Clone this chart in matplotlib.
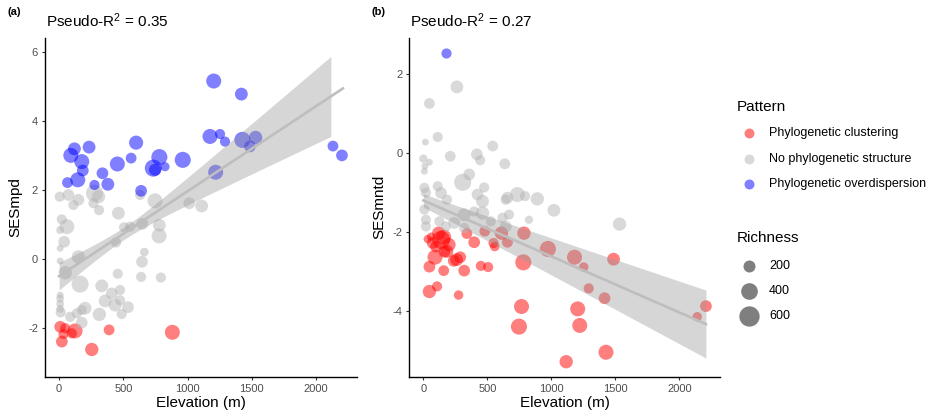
import numpy as np
import matplotlib
matplotlib.use("Agg")
import matplotlib.pyplot as plt

plt.rcParams['font.family'] = ['Liberation Sans', 'DejaVu Sans']
plt.rcParams['mathtext.default'] = 'regular'

# ---- panel (a): SESmpd vs elevation ----
a_clu_elev = [8, 47, 124, 99, 34, 21, 389, 254, 881]
a_clu_ses = [-1.97, -2.01, -2.09, -2.16, -2.18, -2.40, -2.06, -2.63, -2.13]
a_clu_rich = [190, 140, 320, 140, 140, 190, 160, 250, 320]

a_non_elev = [72, 150, 111, 275, 306, 311, 461, 746, 1013, 1109, 21, 60, 8, 39, 8,
              505, 552, 648, 780, 778, 443, 663, 645, 150, 8, 48, 163, 456, 638, 792,
              332, 8, 8, 8, 8, 12, 410, 474, 358, 435, 474, 536, 487, 202, 176, 137,
              313, 176, 86, 630, 5, 267]
a_non_ses = [1.86, 1.72, 1.57, 1.91, 1.81, 1.42, 1.33, 1.69, 1.62, 1.54, 1.15, 0.94, 0.84, 0.50, 0.31,
             0.92, 0.94, 1.02, 0.98, 0.67, 0.48, 0.20, -0.08, 0.06, -0.06, -0.40, -0.73, -0.43, -0.52, -0.54,
             -0.78, -1.05, -1.15, -1.30, -1.45, -1.55, -1.00, -0.90, -1.22, -1.34, -1.20, -1.40, -1.60, -1.43, -1.48, -1.58,
             -1.61, -1.85, -1.68, 1.86, 1.81, 1.62]
a_non_rich = [190, 190, 140, 420, 250, 140, 230, 320, 190, 230, 140, 320, 80, 190, 60,
              140, 140, 190, 230, 320, 140, 100, 190, 250, 60, 250, 420, 140, 140, 140,
              230, 60, 80, 80, 80, 140, 190, 140, 230, 230, 140, 190, 140, 230, 140, 140,
              250, 190, 140, 140, 140, 140]

a_ovr_elev = [1203, 1418, 1174, 1252, 1291, 1426, 1529, 1485, 2131, 2201, 1218, 962, 780, 733, 746,
              824, 599, 560, 453, 638, 337, 379, 275, 233, 119, 91, 176, 184, 145, 65]
a_ovr_ses = [5.17, 4.79, 3.56, 3.63, 3.41, 3.46, 3.53, 3.27, 3.28, 3.01, 2.52, 2.88, 2.96, 2.64, 2.59,
             2.68, 3.38, 2.93, 2.76, 1.98, 2.49, 2.17, 2.15, 3.25, 3.20, 3.01, 2.83, 2.57, 2.30, 2.22]
a_ovr_rich = [320, 230, 320, 140, 140, 370, 250, 190, 160, 190, 320, 370, 370, 420, 200,
              110, 280, 160, 320, 190, 190, 230, 140, 230, 230, 320, 320, 190, 320, 160]

# ---- panel (b): SESmntd vs elevation ----
b_clu_elev = [120, 159, 138, 34, 73, 99, 184, 91, 237, 288, 47, 159, 319, 340, 397, 480, 548, 558,
              610, 657, 786, 781, 449, 506, 47, 107, 275, 973, 1181, 1253, 1292, 1486, 1416, 767,
              747, 1206, 1222, 1427, 1116, 2140, 2208, 60, 200, 165, 260]
b_clu_ses = [-2.03, -2.13, -2.20, -2.18, -2.28, -2.37, -2.49, -2.64, -2.73, -2.64, -2.88, -2.98, -2.98, -2.04, -2.26, -1.98, -2.28, -2.37,
             -2.03, -2.26, -2.03, -2.77, -2.86, -2.89, -3.51, -3.38, -3.60, -2.43, -2.64, -2.89, -3.43, -2.69, -3.68, -3.89,
             -4.40, -3.95, -4.37, -5.05, -5.29, -4.15, -3.88, -2.12, -2.32, -2.50, -2.70]
b_clu_rich = [250, 320, 470, 90, 190, 190, 230, 320, 190, 190, 190, 160, 190, 160, 190, 160, 140, 120,
              250, 160, 250, 370, 140, 140, 250, 140, 120, 370, 320, 120, 140, 230, 190, 320,
              370, 320, 320, 320, 250, 120, 190, 90, 250, 190, 230]

b_non_elev = [262, 47, 112, 16, 542, 210, 418, 444, 636, 0, 47, 12, 8, 358, 307, 475, 112, 8,
              423, 735, 794, 890, 643, 1020, 138, 184, 20, 462, 657, 825, 8, 20, 20, 319, 397,
              462, 527, 618, 669, 644, 241, 125, 176, 319, 1533]
b_non_ses = [1.68, 1.26, 0.41, 0.28, 0.18, -0.08, -0.03, -0.18, -0.27, -0.14, -0.23, -0.33, -0.46, -0.54, -0.74, -0.87, -0.84, -0.88,
             -1.05, -1.05, -1.09, -1.16, -1.18, -1.45, -1.01, -1.18, -1.00, -1.22, -1.13, -1.69, -1.43, -1.69, -1.86, -1.56, -1.48,
             -1.52, -1.73, -1.64, -1.56, -1.86, -1.77, -1.73, -1.86, -1.90, -1.80]
b_non_rich = [230, 160, 140, 60, 160, 160, 190, 140, 160, 90, 60, 60, 60, 190, 420, 140, 140, 140,
              190, 320, 140, 250, 140, 230, 190, 140, 140, 230, 190, 90, 140, 140, 140, 230, 140,
              250, 140, 140, 140, 190, 190, 140, 140, 140, 250]

b_ovr_elev = [179]
b_ovr_ses = [2.55]
b_ovr_rich = [140]

# fitted trend: intercept, slope, band half-width terms, x range of the band
fit_a = dict(b0=-0.50, b1=0.00247, c0=0.033, c1=5.06e-7, xm=500, xmax=2208, band_max=2115)
fit_b = dict(b0=-1.20, b1=-0.00142, c0=0.014, c1=1.1e-7, xm=-370, xmax=2208, band_max=2208)

pattern_names = ["Phylogenetic clustering", "No phylogenetic structure", "Phylogenetic overdispersion"]
pattern_colors = ["#FF0000", "#B5B5B5", "#0000FF"]
legend_rich = [200, 400, 600]


def marker_area(rich):
    # diameter in px grows with sqrt(richness); convert to pt^2 for scatter
    d = 0.8 * np.sqrt(np.asarray(rich, dtype=float)) + 0.7
    return (d * 0.72) ** 2


def draw_panel(ax, groups, fit, ylabel, yticks, ylim):
    for (ex, sy, rc), col in zip(groups, pattern_colors):
        ax.scatter(ex, sy, s=marker_area(rc), color=col, alpha=0.5, linewidths=0, zorder=2)
    xb = np.linspace(0, fit["band_max"], 200)
    hw = 1.96 * np.sqrt(fit["c0"] + fit["c1"] * (xb - fit["xm"]) ** 2) / 1.96
    yb = fit["b0"] + fit["b1"] * xb
    ax.fill_between(xb, yb - hw, yb + hw, color="#999999", alpha=0.4, linewidth=0, zorder=3)
    xl = np.linspace(0, fit["xmax"], 50)
    ax.plot(xl, fit["b0"] + fit["b1"] * xl, color="#BEBEBE", lw=1.9, zorder=4)

    ax.set_xlim(-110, 2318)
    ax.set_ylim(*ylim)
    ax.set_xticks([0, 500, 1000, 1500, 2000])
    ax.set_yticks(yticks)
    ax.set_yticklabels([str(t) for t in yticks])
    for s in ["top", "right"]:
        ax.spines[s].set_visible(False)
    for s in ["left", "bottom"]:
        ax.spines[s].set_linewidth(1.0)
        ax.spines[s].set_color("black")
    ax.tick_params(length=2.5, width=0.8, color="#333333", labelcolor="#4D4D4D",
                   labelsize=8, pad=2.5)
    ax.set_xlabel("Elevation (m)", fontsize=11, labelpad=2)
    ax.set_ylabel(ylabel, fontsize=11, labelpad=4)


fig = plt.figure(figsize=(9.35, 4.17), dpi=100)
W, H = 935, 417

ax1 = fig.add_axes([45 / W, 1 - 376.7 / H, 312 / W, 338.7 / H])
ax2 = fig.add_axes([409.3 / W, 1 - 376.7 / H, 310.7 / W, 338.7 / H])

draw_panel(ax1,
           [(a_clu_elev, a_clu_ses, a_clu_rich),
            (a_non_elev, a_non_ses, a_non_rich),
            (a_ovr_elev, a_ovr_ses, a_ovr_rich)],
           fit_a, "SESmpd", [-2, 0, 2, 4, 6], (-3.42, 6.42))
draw_panel(ax2,
           [(b_clu_elev, b_clu_ses, b_clu_rich),
            (b_non_elev, b_non_ses, b_non_rich),
            (b_ovr_elev, b_ovr_ses, b_ovr_rich)],
           fit_b, "SESmntd", [-4, -2, 0, 2], (-5.67, 2.92))

# panel tags and titles
fig.text(8 / W, 1 - 15 / H, "(a)", fontsize=8, weight="bold", va="baseline")
fig.text(372 / W, 1 - 15 / H, "(b)", fontsize=8, weight="bold", va="baseline")
fig.text(46 / W, 1 - 26.7 / H, "Pseudo-R$^2$ = 0.35", fontsize=11, va="baseline")
fig.text(410 / W, 1 - 26.7 / H, "Pseudo-R$^2$ = 0.27", fontsize=11, va="baseline")

# legends drawn in pixel coordinates
lg = fig.add_axes([0, 0, 1, 1], zorder=-1)
lg.set_xlim(0, W)
lg.set_ylim(H, 0)
lg.axis("off")
lg.text(737, 110.7, "Pattern", fontsize=11, va="baseline")
for i, (name, col) in enumerate(zip(pattern_names, pattern_colors)):
    y = 133.3 + i * 25.5
    lg.scatter([749], [y], s=(10 * 0.72) ** 2, color=col, alpha=0.5, linewidths=0)
    lg.text(769, y, name, fontsize=9, va="center")
lg.text(737, 242, "Richness", fontsize=11, va="baseline")
for i, r in enumerate(legend_rich):
    y = 265.7 + i * 25
    lg.scatter([749], [y], s=marker_area(r), color="black", alpha=0.5, linewidths=0)
    lg.text(769, y, str(r), fontsize=9, va="center")

fig.savefig("out.png", dpi=100)
